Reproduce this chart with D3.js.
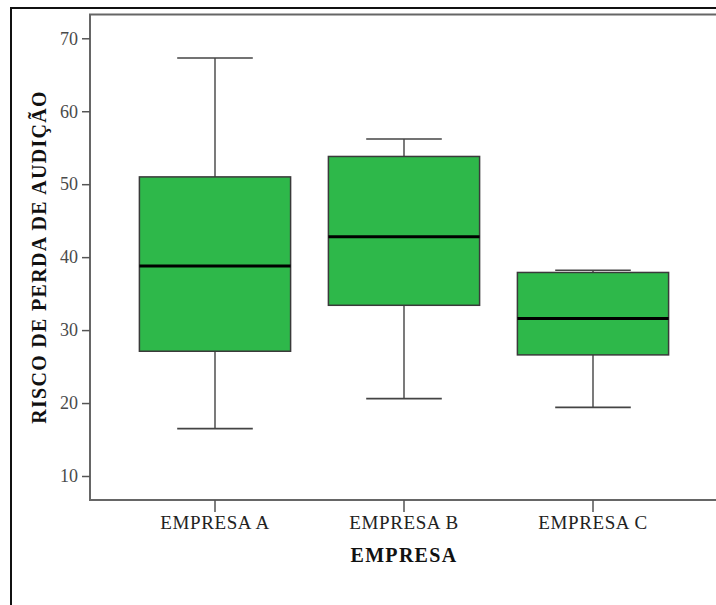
<!DOCTYPE html>
<html>
<head>
<meta charset="utf-8">
<script src="https://cdn.jsdelivr.net/npm/d3@7"></script>
<style>
  html, body { margin: 0; padding: 0; background: #fff; }
  svg { display: block; }
</style>
</head>
<body>
<svg id="chart" width="716" height="605"></svg>
<script>
// ---- data ----
const categories = ["EMPRESA A", "EMPRESA B", "EMPRESA C"];
const whiskerLow  = [16.5, 20.6, 19.4];
const q1          = [27.1, 33.4, 26.6];
const median      = [38.8, 42.8, 31.6];
const q3          = [51.0, 53.8, 37.9];
const whiskerHigh = [67.3, 56.2, 38.2];
const yTicks = [10, 20, 30, 40, 50, 60, 70];
const xTitle = "EMPRESA";
const yTitle = "RISCO DE PERDA DE AUDIÇÃO";

const svg = d3.select("#chart");
const W = 716, H = 605;
const plot = { left: 90, top: 14.5, right: 718, bottom: 500 };
const serif = "'Liberation Serif', 'DejaVu Serif', serif";

// outer frame
svg.append("path")
  .attr("d", `M11,${H + 5} V8 H${W + 5}`)
  .attr("fill", "none").attr("stroke", "#111").attr("stroke-width", 2);

const y = d3.scaleLinear().domain([6.71, 73.26]).range([plot.bottom, plot.top]);
const x = d3.scaleBand().domain(categories)
  .range([plot.left + 30.5, plot.right - 30.5]).paddingInner(0.2).paddingOuter(0.1);

// plot frame (left, top, bottom)
svg.append("path")
  .attr("d", `M${plot.right},${plot.top} H${plot.left} V${plot.bottom} H${plot.right}`)
  .attr("fill", "none").attr("stroke", "#666").attr("stroke-width", 2);

// y axis
const yAxis = d3.axisLeft(y).tickValues(yTicks).tickSize(8).tickPadding(4).tickFormat(d3.format("d"));
const gy = svg.append("g").attr("transform", `translate(${plot.left},0)`).call(yAxis);
gy.select(".domain").remove();
gy.selectAll(".tick line").attr("stroke", "#555").attr("stroke-width", 1.5);
gy.selectAll(".tick text").attr("fill", "#4a4a4a")
  .style("font-family", serif).style("font-size", "18px");

// x axis
const xAxis = d3.axisBottom(x).tickSize(12).tickPadding(4);
const gx = svg.append("g").attr("transform", `translate(0,${plot.bottom})`).call(xAxis);
gx.select(".domain").remove();
gx.selectAll(".tick line").attr("stroke", "#555").attr("stroke-width", 1.5);
gx.selectAll(".tick text").attr("fill", "#222")
  .style("font-family", serif).style("font-size", "19px").style("letter-spacing", "0.6px");

// boxes
const data = categories.map((c, i) => ({
  c, lo: whiskerLow[i], q1: q1[i], med: median[i], q3: q3[i], hi: whiskerHigh[i]
}));
const g = svg.append("g");
const bw = x.bandwidth();
data.forEach(d => {
  const cx = x(d.c) + bw / 2;
  const gg = g.append("g");
  gg.append("line").attr("x1", cx).attr("x2", cx).attr("y1", y(d.hi)).attr("y2", y(d.q3))
    .attr("stroke", "#222").attr("stroke-width", 1.2);
  gg.append("line").attr("x1", cx).attr("x2", cx).attr("y1", y(d.q1)).attr("y2", y(d.lo))
    .attr("stroke", "#222").attr("stroke-width", 1.2);
  [d.hi, d.lo].forEach(v => {
    gg.append("line").attr("x1", cx - bw / 4).attr("x2", cx + bw / 4)
      .attr("y1", y(v)).attr("y2", y(v))
      .attr("stroke", "#444").attr("stroke-width", 1.6);
  });
  gg.append("rect").attr("x", x(d.c)).attr("width", bw)
    .attr("y", y(d.q3)).attr("height", y(d.q1) - y(d.q3))
    .attr("fill", "#2eb84a").attr("stroke", "#3a3a3a").attr("stroke-width", 1.5);
  gg.append("line").attr("x1", x(d.c)).attr("x2", x(d.c) + bw)
    .attr("y1", y(d.med)).attr("y2", y(d.med))
    .attr("stroke", "#000").attr("stroke-width", 3);
});

// axis titles
svg.append("text")
  .attr("x", (x(categories[1]) + bw / 2)).attr("y", 562)
  .attr("text-anchor", "middle")
  .style("font-family", serif)
  .style("font-weight", "bold").style("font-size", "20px").style("letter-spacing", "1.3px")
  .attr("fill", "#111")
  .text(xTitle);

svg.append("text")
  .attr("transform", `translate(46,257) rotate(-90)`)
  .attr("text-anchor", "middle")
  .style("font-family", serif)
  .style("font-weight", "bold").style("font-size", "20px").style("letter-spacing", "1.3px")
  .attr("fill", "#111")
  .text(yTitle);
</script>
</body>
</html>
